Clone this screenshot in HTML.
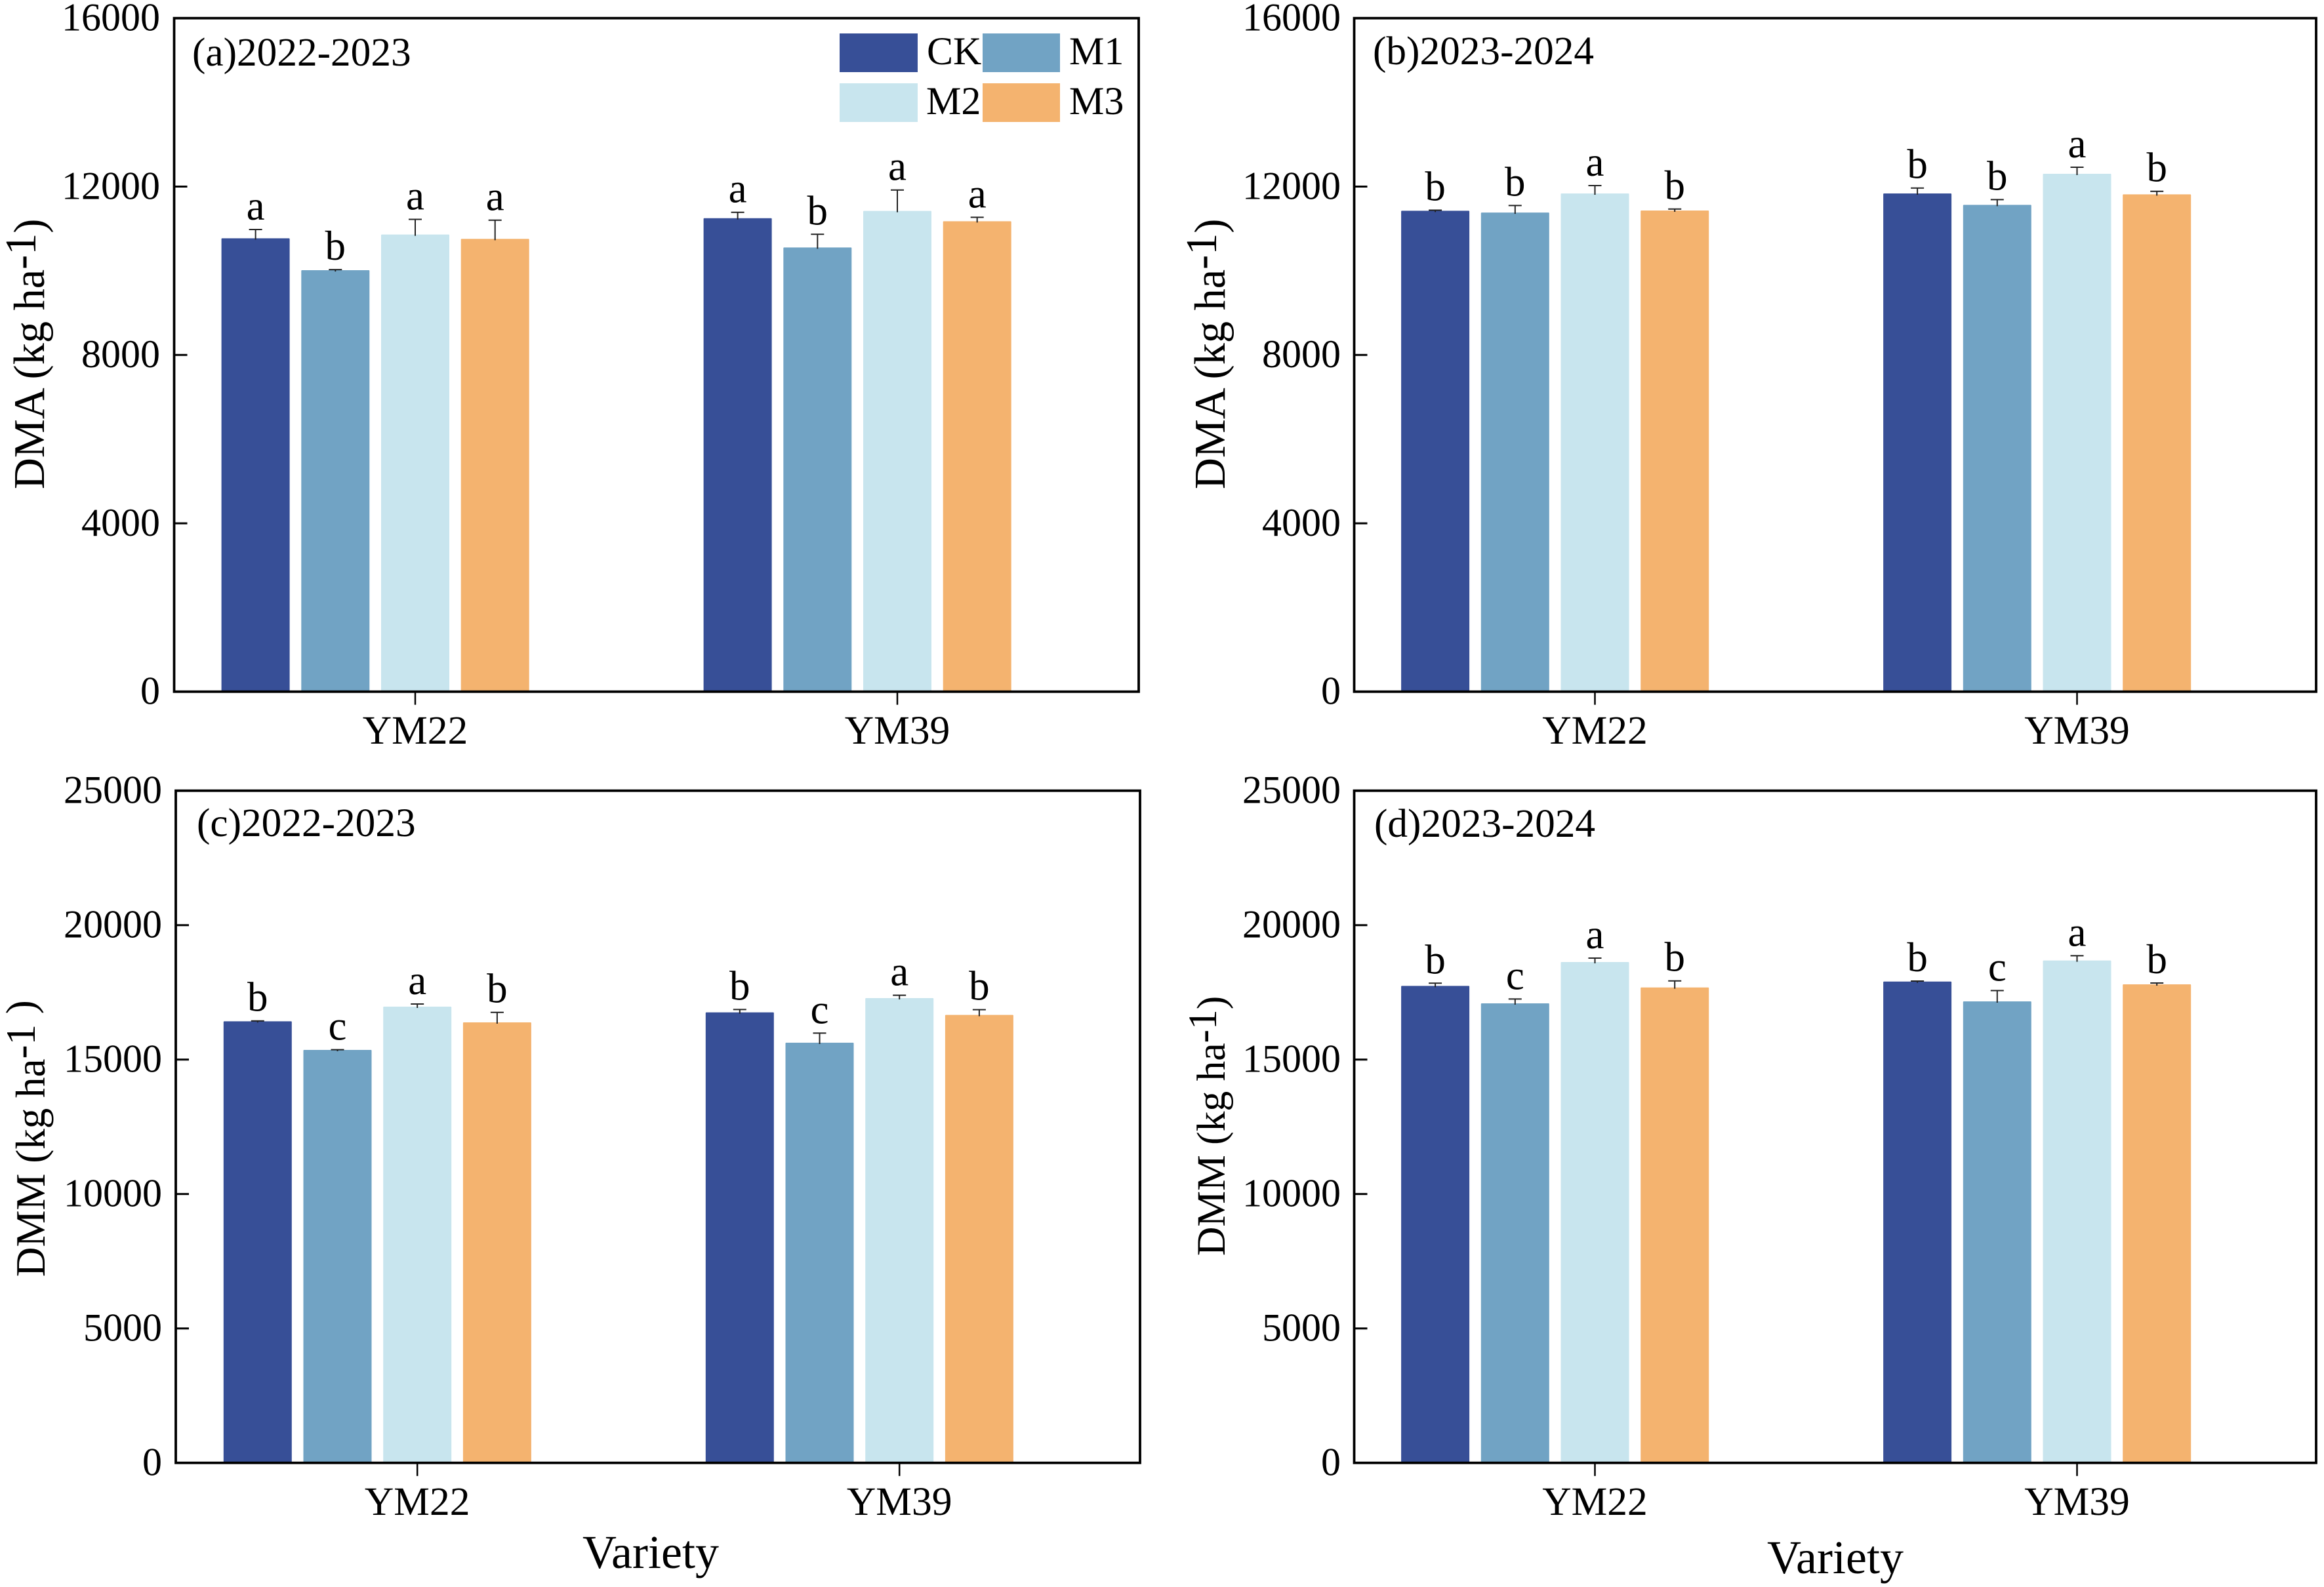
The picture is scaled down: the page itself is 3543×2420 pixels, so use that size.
<!DOCTYPE html>
<html lang="en">
<head>
<meta charset="utf-8">
<title>DMA and DMM by variety</title>
<style>
html,body{margin:0;padding:0;background:#fff;}
svg{display:block;}
text{font-family:"Liberation Serif","Times New Roman",serif;fill:#000;}
</style>
</head>
<body>
<svg id="chart" xmlns="http://www.w3.org/2000/svg" width="3543" height="2420" viewBox="0 0 3543 2420">
  <rect x="0" y="0" width="3543" height="2420" fill="#fff"/>
  <g id="panels"></g>

  <text transform="translate(67 746) rotate(-90)" font-size="66.3">DMA (kg ha<tspan dy="-13">-1</tspan><tspan dy="13">)</tspan></text>
  <text transform="translate(1867 746) rotate(-90)" font-size="66.3">DMA (kg ha<tspan dy="-13">-1</tspan><tspan dy="13">)</tspan></text>
  <text transform="translate(68 1947) rotate(-90)" font-size="63">DMM (kg ha<tspan dy="-15">-1 )</tspan></text>
  <text transform="translate(1867 1915) rotate(-90)" font-size="61.5">DMM (kg ha<tspan dy="-13">-1</tspan><tspan dy="13">)</tspan></text>

  <text x="992" y="2391" font-size="72" text-anchor="middle">Variety</text>
  <text x="2798" y="2399" font-size="72" text-anchor="middle">Variety</text>

  <g>
    <rect x="1280" y="51" width="119" height="59" fill="#374F97"/>
    <text x="1413" y="98" font-size="60">CK</text>
    <rect x="1498" y="51" width="118" height="59" fill="#71A3C4"/>
    <text x="1630" y="98" font-size="60">M1</text>
    <rect x="1280" y="127" width="119" height="59" fill="#C8E5EE"/>
    <text x="1412" y="174" font-size="60">M2</text>
    <rect x="1498" y="127" width="118" height="59" fill="#F4B36F"/>
    <text x="1630" y="174" font-size="60">M3</text>
  </g>
</svg>

<script>
// ---- chart data ----
const categories = ['YM22', 'YM39'];
const seriesNames = ['CK', 'M1', 'M2', 'M3'];
const dmaTicks = [0, 4000, 8000, 12000, 16000];
const dmmTicks = [0, 5000, 10000, 15000, 20000, 25000];

const panelAValues = [[10770, 10012, 10860, 10756], [11248, 10553, 11420, 11176]];
const panelAErrors = [[209, 15, 361, 445], [140, 312, 498, 93]];
const panelALetters = [['a', 'b', 'a', 'a'], ['a', 'b', 'a', 'a']];

const panelBValues = [[11424, 11382, 11835, 11430], [11835, 11565, 12303, 11815]];
const panelBErrors = [[15, 167, 187, 35], [130, 125, 156, 72]];
const panelBLetters = [['b', 'b', 'a', 'b'], ['b', 'b', 'a', 'b']];

const panelCValues = [[16424, 15358, 16968, 16383], [16756, 15627, 17285, 16659]];
const panelCErrors = [[15, 10, 98, 373], [106, 358, 106, 195]];
const panelCLetters = [['b', 'c', 'a', 'b'], ['b', 'c', 'a', 'b']];

const panelDValues = [[17741, 17090, 18627, 17683], [17902, 17163, 18685, 17797]];
const panelDErrors = [[98, 163, 146, 244], [17, 402, 178, 49]];
const panelDLetters = [['b', 'c', 'a', 'b'], ['b', 'c', 'a', 'b']];

// ---- panel layout ----
const barColors = ['#374F97', '#71A3C4', '#C8E5EE', '#F4B36F'];
const BAR_WIDTH = 104, BAR_STEP = 121.7, GROUP_STEP = 735;

const panels = [
  {id:'a', title:'(a)2022-2023', left:265.5, right:1736, top:27.7, bottom:1054.7, firstTick:633,  labelRight:244,  titleX:293,  titleY:100, catY:1134, ticks:dmaTicks, values:panelAValues, errors:panelAErrors, letters:panelALetters},
  {id:'b', title:'(b)2023-2024', left:2064.5, right:3531, top:27.7, bottom:1054.7, firstTick:2431.5, labelRight:2044, titleX:2093, titleY:98,  catY:1134, ticks:dmaTicks, values:panelBValues, errors:panelBErrors, letters:panelBLetters},
  {id:'c', title:'(c)2022-2023', left:268, right:1738, top:1205.7, bottom:2230.7, firstTick:636.2, labelRight:247,  titleX:300,  titleY:1275, catY:2310, ticks:dmmTicks, values:panelCValues, errors:panelCErrors, letters:panelCLetters},
  {id:'d', title:'(d)2023-2024', left:2064.5, right:3531, top:1205.7, bottom:2230.7, firstTick:2431.5, labelRight:2044, titleX:2095, titleY:1276, catY:2310, ticks:dmmTicks, values:panelDValues, errors:panelDErrors, letters:panelDLetters}
];

// ---- helpers ----
const NS = 'http://www.w3.org/2000/svg';
function make(tag, attrs, parent) {
  const el = document.createElementNS(NS, tag);
  for (const k in attrs) el.setAttribute(k, attrs[k]);
  parent.appendChild(el);
  return el;
}
function yScale(p, v) {
  const max = p.ticks[p.ticks.length - 1];
  return p.bottom - (v / max) * (p.bottom - p.top);
}
function xCenter(p, g) { return p.firstTick + g * GROUP_STEP; }
function xBar(p, g, s) { return xCenter(p, g) + (s - 2) * BAR_STEP; }

// ---- drawing ----
const root = document.getElementById('panels');
panels.forEach(function (p) {
  const g = make('g', {}, root);
  
  

  // bars, error bars and significance letters
  categories.forEach(function (cat, gi) {
    seriesNames.forEach(function (name, si) {
      const v = p.values[gi][si];
      const e = p.errors[gi][si];
      const cx = xBar(p, gi, si);
      const yTop = yScale(p, v);
      const yCap = yScale(p, v + e);

      const bar = make('rect', {x: cx - BAR_WIDTH / 2, y: yTop, width: BAR_WIDTH, height: p.bottom - yTop, fill: barColors[si], rx: 1}, g);
      
      

      const stem = make('line', {x1: cx, x2: cx, y1: yCap, y2: yTop + 2, stroke: '#222', 'stroke-width': 2}, g);
      
      

      const cap = make('line', {x1: cx - 10, x2: cx + 10, y1: yCap, y2: yCap, stroke: '#222', 'stroke-width': 2}, g);
      
      

      const letter = make('text', {x: cx, y: yCap - 15, 'font-size': 63, 'text-anchor': 'middle'}, g);
      letter.textContent = p.letters[gi][si];
      
      
    });

    const cx = xCenter(p, gi);
    const tick = make('line', {x1: cx, x2: cx, y1: p.bottom, y2: p.bottom + 20, stroke: '#000', 'stroke-width': 2.5}, g);
    
    

    const label = make('text', {x: cx, y: p.catY, 'font-size': 61.5, 'text-anchor': 'middle'}, g);
    label.textContent = cat;
    
    
  });

  // y axis ticks
  p.ticks.forEach(function (t) {
    const y = yScale(p, t);
    const tick = make('line', {x1: p.left, x2: p.left + 20, y1: y, y2: y, stroke: '#000', 'stroke-width': 3}, g);
    
    

    const label = make('text', {x: p.labelRight, y: y + 19, 'font-size': 60, 'text-anchor': 'end'}, g);
    label.textContent = String(t);
    
    
  });

  // frame
  const frame = make('rect', {x: p.left, y: p.top, width: p.right - p.left, height: p.bottom - p.top, fill: 'none', stroke: '#000', 'stroke-width': 3.8}, g);
  
  

  // panel title
  const title = make('text', {x: p.titleX, y: p.titleY, 'font-size': 61.3}, g);
  title.textContent = p.title;
  
  
});
</script>
</body>
</html>
